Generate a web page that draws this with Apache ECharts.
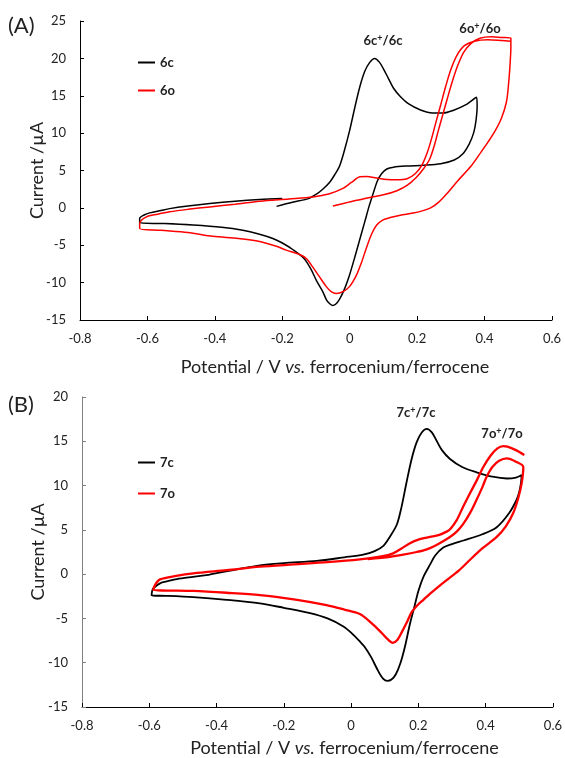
<!DOCTYPE html>
<html>
<head>
<meta charset="utf-8">
<script src="https://cdn.jsdelivr.net/npm/echarts@6/dist/echarts.min.js"></script>
<style>
  html, body { margin: 0; padding: 0; background: #fff; }
  #chart { width: 565px; height: 758px; }
</style>
</head>
<body>
<div id="chart"></div>
<script>
// panel (A): [potential V, current uA]
var cv6c = [[-0.217,0.2],[-0.17,0.75],[-0.125,1.2],[-0.1,1.8],[-0.08,2.5],[-0.06,3.4],[-0.045,4.4],[-0.03,5.6],[-0.015,7.8],[0.0,10.4],[0.015,13.4],[0.03,16.2],[0.045,18.3],[0.06,19.5],[0.074,20.0],[0.088,19.5],[0.1,18.6],[0.115,17.3],[0.13,16.0],[0.15,14.9],[0.175,13.9],[0.21,13.1],[0.245,12.7],[0.277,12.7],[0.31,13.1],[0.345,13.8],[0.376,14.8],[0.378,13.6],[0.375,11.8],[0.368,10.1],[0.355,8.6],[0.335,7.2],[0.31,6.4],[0.27,5.9],[0.22,5.7],[0.17,5.6],[0.13,5.45],[0.11,5.2],[0.095,4.6],[0.082,3.6],[0.07,2.0],[0.058,0.3],[0.045,-1.8],[0.03,-4.2],[0.015,-6.6],[0.0,-8.9],[-0.015,-10.8],[-0.03,-12.2],[-0.042,-12.9],[-0.051,-13.05],[-0.06,-12.8],[-0.069,-12.3],[-0.08,-11.2],[-0.099,-9.7],[-0.115,-8.2],[-0.135,-6.8],[-0.168,-5.6],[-0.2,-4.7],[-0.228,-4.1],[-0.27,-3.5],[-0.317,-3.0],[-0.38,-2.6],[-0.465,-2.3],[-0.55,-2.1],[-0.623,-2.0],[-0.623,-1.4],[-0.61,-0.95],[-0.593,-0.67],[-0.56,-0.35],[-0.534,-0.1],[-0.48,0.25],[-0.415,0.59],[-0.34,0.9],[-0.267,1.12],[-0.2,1.25]];
var cv6o = [[-0.05,0.25],[0.0,0.8],[0.03,1.1],[0.06,1.4],[0.1,1.75],[0.14,2.3],[0.17,3.0],[0.198,4.1],[0.22,5.3],[0.237,6.5],[0.25,8.2],[0.262,10.2],[0.275,12.3],[0.29,14.7],[0.305,17.0],[0.32,19.0],[0.338,20.8],[0.36,22.0],[0.386,22.7],[0.42,22.9],[0.45,22.8],[0.478,22.7],[0.478,21.5],[0.476,19.5],[0.472,17.0],[0.465,14.2],[0.45,12.0],[0.43,10.2],[0.41,8.8],[0.39,7.5],[0.36,5.6],[0.32,3.6],[0.29,2.0],[0.265,0.8],[0.24,0.0],[0.215,-0.4],[0.188,-0.7],[0.15,-1.0],[0.12,-1.3],[0.099,-1.6],[0.08,-2.3],[0.065,-3.5],[0.05,-5.3],[0.035,-7.3],[0.02,-9.0],[0.0,-10.5],[-0.02,-11.2],[-0.04,-11.45],[-0.055,-11.2],[-0.07,-10.5],[-0.09,-9.2],[-0.11,-7.9],[-0.128,-6.8],[-0.15,-6.2],[-0.188,-5.65],[-0.22,-5.1],[-0.267,-4.5],[-0.33,-4.1],[-0.406,-3.8],[-0.48,-3.3],[-0.56,-3.0],[-0.623,-2.75],[-0.623,-2.1],[-0.603,-1.2],[-0.57,-0.85],[-0.534,-0.53],[-0.48,-0.2],[-0.415,0.13],[-0.34,0.5],[-0.267,0.9],[-0.18,1.2],[-0.109,1.47],[-0.06,1.9],[-0.02,2.6],[0.005,3.4],[0.03,4.15],[0.05,4.2],[0.08,4.0],[0.11,3.8],[0.14,3.75],[0.17,3.9],[0.195,4.6],[0.215,5.8],[0.23,7.4],[0.243,9.3],[0.256,11.5],[0.27,13.8],[0.285,16.3],[0.3,18.5],[0.318,20.4],[0.34,21.7],[0.37,22.3],[0.41,22.5],[0.45,22.4],[0.478,22.3]];

// panel (B)
var cv7c = [[-0.419,-0.02],[-0.35,0.45],[-0.271,1.0],[-0.2,1.25],[-0.102,1.5],[-0.02,1.9],[0.036,2.2],[0.07,2.6],[0.096,3.2],[0.115,4.2],[0.136,5.6],[0.15,7.6],[0.165,10.4],[0.18,13.0],[0.195,14.9],[0.21,16.0],[0.225,16.4],[0.24,16.0],[0.255,15.0],[0.27,14.0],[0.294,13.0],[0.33,12.1],[0.373,11.5],[0.42,11.0],[0.463,10.8],[0.49,10.9],[0.507,11.2],[0.505,10.3],[0.5,9.3],[0.492,8.4],[0.47,6.9],[0.433,5.3],[0.39,4.5],[0.334,3.8],[0.3,3.4],[0.274,3.0],[0.25,2.1],[0.235,1.1],[0.215,-0.3],[0.2,-1.9],[0.188,-3.7],[0.175,-5.6],[0.16,-8.2],[0.147,-10.0],[0.133,-11.3],[0.12,-11.9],[0.108,-12.05],[0.095,-11.8],[0.08,-10.9],[0.06,-9.4],[0.04,-8.2],[0.026,-7.6],[0.0,-6.6],[-0.023,-5.9],[-0.07,-5.0],[-0.122,-4.4],[-0.2,-3.8],[-0.271,-3.3],[-0.37,-2.9],[-0.469,-2.6],[-0.55,-2.45],[-0.593,-2.4],[-0.592,-2.0],[-0.588,-1.6],[-0.568,-1.04],[-0.545,-0.8],[-0.518,-0.55],[-0.47,-0.3],[-0.419,-0.05]];
var cv7o = [[0.515,13.45],[0.49,14.0],[0.465,14.4],[0.452,14.46],[0.435,14.2],[0.415,13.4],[0.393,12.1],[0.375,10.7],[0.353,9.1],[0.333,7.6],[0.314,6.1],[0.295,5.1],[0.284,4.8],[0.26,4.4],[0.235,4.2],[0.2,3.9],[0.175,3.5],[0.15,2.9],[0.125,2.35],[0.09,2.0],[0.026,1.67],[-0.07,1.35],[-0.17,1.1],[-0.271,0.84],[-0.37,0.45],[-0.469,0.09],[-0.52,-0.2],[-0.568,-0.59],[-0.583,-1.23],[-0.588,-1.8],[-0.55,-1.85],[-0.469,-1.9],[-0.37,-2.1],[-0.271,-2.36],[-0.17,-2.85],[-0.073,-3.5],[-0.02,-4.0],[0.026,-4.5],[0.06,-5.5],[0.09,-6.6],[0.11,-7.4],[0.124,-7.75],[0.138,-7.4],[0.15,-6.6],[0.165,-5.5],[0.18,-4.3],[0.2,-3.4],[0.215,-2.9],[0.235,-2.2],[0.26,-1.4],[0.284,-0.67],[0.32,0.4],[0.353,1.6],[0.39,2.9],[0.433,4.2],[0.46,5.4],[0.482,6.9],[0.497,8.6],[0.507,10.25],[0.512,12.1],[0.49,12.7],[0.463,13.07],[0.44,12.8],[0.42,12.1],[0.403,11.0],[0.39,9.8],[0.373,8.4],[0.355,7.0],[0.334,5.7],[0.314,4.8],[0.294,4.2],[0.254,3.3],[0.225,2.8],[0.195,2.5],[0.155,2.2],[0.116,1.96],[0.05,1.7]];

var FONT = 'Lato, "Open Sans", sans-serif';
var TXT = '#222';

function tickFmt(v) {
	if (Math.abs(v) < 1e-9) return '0';
	return String(+v.toFixed(1));
}

function xAx(idx, gap, pad) {
	return {
		type: 'value', gridIndex: idx, min: -0.8, max: 0.6, interval: 0.2,
		axisLine: { onZero: false, lineStyle: { color: '#000', width: 1 } },
		axisTick: { inside: true, length: 4, lineStyle: { color: '#000' } },
		axisLabel: { fontSize: 13, color: TXT, fontFamily: FONT, margin: 12, formatter: tickFmt },
		splitLine: { show: false },
		name: '{n|Potential / V }{i|vs.}{n| ferrocenium/ferrocene}',
		nameLocation: 'middle', nameGap: gap, nameMoveOverlap: false,
		nameTextStyle: {
			padding: [0, 0, 0, pad],
			rich: {
				n: { fontSize: 18, color: TXT, fontFamily: FONT },
				i: { fontSize: 18, color: TXT, fontFamily: FONT, fontStyle: 'italic' }
			}
		}
	};
}

function yAx(idx, max, col, gap) {
	return {
		type: 'value', gridIndex: idx, min: -15, max: max, interval: 5,
		axisLine: { show: true, onZero: false, lineStyle: { color: col, width: 1 } },
		axisTick: { show: true, inside: true, length: 4, lineStyle: { color: col } },
		axisLabel: { fontSize: 13, color: TXT, fontFamily: FONT, margin: 14 },
		splitLine: { show: false },
		name: 'Current /µA', nameLocation: 'middle', nameGap: gap, nameMoveOverlap: false,
		nameTextStyle: { fontSize: 18, color: TXT, fontFamily: FONT }
	};
}

function cv(name, data, idx, color, w) {
	return {
		name: name, type: 'line', xAxisIndex: idx, yAxisIndex: idx,
		data: data, showSymbol: false, symbol: 'none', smooth: 0.3,
		lineStyle: { color: color, width: w }, itemStyle: { color: color }
	};
}

function label(text, x, y) {
	return {
		type: 'text', x: x, y: y,
		style: {
			text: text, align: 'center', verticalAlign: 'middle',
			rich: {
				b: { fontSize: 13, fontWeight: 'bold', fill: TXT, fontFamily: FONT },
				s: { fontSize: 9, fontWeight: 'bold', fill: TXT, fontFamily: FONT, verticalAlign: 'top', padding: [0, 0, 6, 0] }
			}
		}
	};
}

var legendText = { fontSize: 13, fontWeight: 'bold', color: TXT, fontFamily: FONT };

var option = {
	animation: false,
	backgroundColor: '#fff',
	grid: [
		{ left: 80, top: 21, width: 472, height: 299 },
		{ left: 82, top: 397, width: 471, height: 310 }
	],
	xAxis: [xAx(0, 38, 38), xAx(1, 32, 54)],
	yAxis: [yAx(0, 25, '#000', 34), yAx(1, 20, '#808080', 35)],
	legend: [
		{ data: ['6c', '6o'], left: 133, top: 51, orient: 'vertical', icon: 'rect',
		  itemWidth: 17, itemHeight: 2, itemGap: 15, textStyle: legendText },
		{ data: ['7c', '7o'], left: 133, top: 451, orient: 'vertical', icon: 'rect',
		  itemWidth: 17, itemHeight: 2, itemGap: 18, textStyle: legendText }
	],
	graphic: [
		{ type: 'text', left: 8, top: 15, style: { text: '(A)', fontSize: 22, fill: TXT, fontFamily: FONT } },
		{ type: 'text', left: 8, top: 394, style: { text: '(B)', fontSize: 22, fill: TXT, fontFamily: FONT } },
		label('{b|6c}{s|+}{b|/6c}', 383, 41),
		label('{b|6o}{s|+}{b|/6o}', 480, 29),
		label('{b|7c}{s|+}{b|/7c}', 416, 413),
		label('{b|7o}{s|+}{b|/7o}', 502, 434)
	],
	series: [
		cv('6c', cv6c, 0, '#000', 1.5),
		cv('6o', cv6o, 0, '#ff0000', 1.5),
		cv('7c', cv7c, 1, '#000', 1.8),
		cv('7o', cv7o, 1, '#ff0000', 2.3)
	]
};

var chart = echarts.init(document.getElementById('chart'));
chart.setOption(option);
</script>
</body>
</html>
